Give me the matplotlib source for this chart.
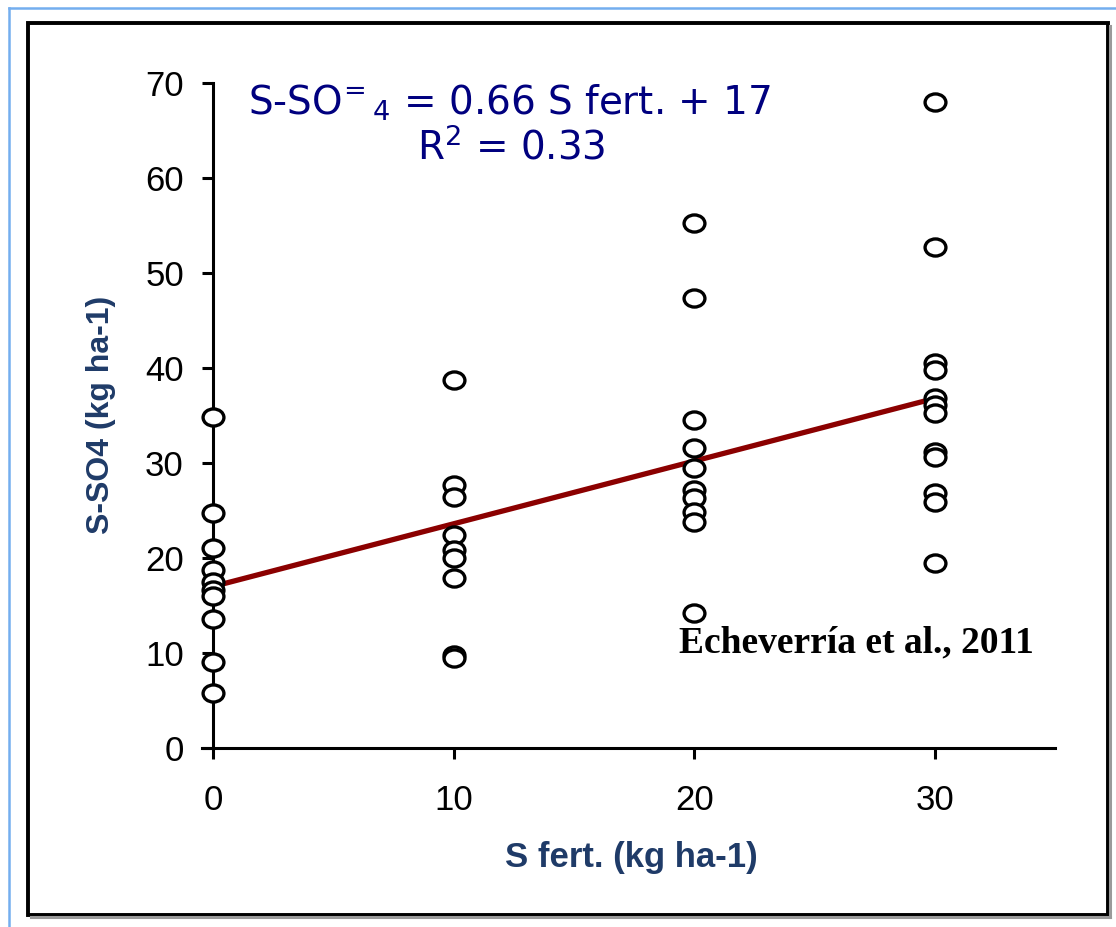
import numpy as np
import matplotlib
matplotlib.use("Agg")
import matplotlib.pyplot as plt
from matplotlib.path import Path
from matplotlib.transforms import Affine2D
from matplotlib.lines import Line2D
from matplotlib.patches import Rectangle

# S fertilizer rate (kg ha-1) and measured S-SO4 (kg ha-1)
sso4_0 = [34.8, 24.7, 21.1, 18.7, 17.5, 16.6, 16.0, 13.6, 9.1, 5.8]
sso4_10 = [38.7, 27.7, 26.4, 22.4, 20.8, 20.0, 17.9, 9.8, 9.5]
sso4_20 = [55.3, 47.4, 34.5, 31.6, 29.5, 27.2, 26.3, 24.8, 23.8, 14.2]
sso4_30 = [68.0, 52.7, 40.5, 39.8, 36.8, 36.1, 35.3, 31.2, 30.6, 26.8, 25.9, 19.5]
s_rates = [0, 10, 20, 30]

# Fitted regression
slope = 0.66
intercept = 17
r2 = 0.33

x_ticks = [0, 10, 20, 30]
y_ticks = [0, 10, 20, 30, 40, 50, 60, 70]

groups = list(zip(s_rates, [sso4_0, sso4_10, sso4_20, sso4_30]))

W, H = 1116, 927
fig = plt.figure(figsize=(W / 100, H / 100), dpi=100)
ft = fig.transFigure

# Outer light-blue edges
fig.add_artist(Line2D([9 / W, 1.0], [1 - 8 / H, 1 - 8 / H], color="#74AEEF",
                      lw=1.8, transform=ft))
fig.add_artist(Line2D([9 / W, 9 / W], [0, 1 - 8 / H], color="#74AEEF",
                      lw=1.8, transform=ft))
# Soft shadow on the right and bottom of the frame
fig.add_artist(Line2D([1110 / W, 1110 / W], [1 - 917 / H, 1 - 26 / H],
                      color="#9a9a9a", lw=2.2, transform=ft))
fig.add_artist(Line2D([31 / W, 1110 / W], [1 - 917 / H, 1 - 917 / H],
                      color="#9a9a9a", lw=2.2, transform=ft))
# Black frame
fig.add_artist(Rectangle((28 / W, 1 - 915 / H), 1080 / W, 892 / H, fill=False,
                         ec="black", lw=2.8, transform=ft))

ax = fig.add_axes([213 / W, 1 - 748 / H, (1055 - 213) / W, (748 - 83) / H])
ax.set_xlim(0, 35)
ax.set_ylim(0, 70)

# Slightly flattened open circle marker
ell = Path.unit_circle().transformed(Affine2D().scale(1.0, 0.82))

for xv, ys in groups:
    ax.plot([xv] * len(ys), ys, linestyle="none", marker=ell, markersize=15,
            markerfacecolor="white", markeredgecolor="black",
            markeredgewidth=2.4, clip_on=False, zorder=4)

xf = np.array([0, 30])
ax.plot(xf, slope * xf + intercept, color="#8B0000", lw=3.8, zorder=3,
        solid_capstyle="butt")

for side in ("top", "right"):
    ax.spines[side].set_visible(False)
for side in ("left", "bottom"):
    ax.spines[side].set_linewidth(2.2)
ax.spines["bottom"].set_bounds(-0.45, 35)

ax.set_xticks(x_ticks)
ax.set_yticks(y_ticks)
ax.tick_params(axis="both", direction="out", length=8, width=2.2,
               labelsize=25, colors="black")
ax.tick_params(axis="x", pad=18)
ax.tick_params(axis="y", pad=13)
for lab in ax.get_xticklabels() + ax.get_yticklabels():
    lab.set_family("Liberation Sans")

label_color = "#1F3B68"
fig.text(101 / W, 1 - 415 / H, "S-SO4 (kg ha-1)", rotation=90, ha="center",
         va="center", fontsize=23, fontweight="bold", color=label_color,
         family="Liberation Sans")
fig.text(631 / W, 1 - 857 / H, "S fert. (kg ha-1)", ha="center", va="center",
         fontsize=25, fontweight="bold", color=label_color,
         family="Liberation Sans")

eq_color = "#00007F"
fig.text(510 / W, 1 - 103 / H,
         r"S-SO$^{\!=}{}_{4}$ = %.2f S fert. + %d" % (slope, intercept),
         ha="center", va="center", fontsize=28, color=eq_color,
         family="DejaVu Sans")
fig.text(511 / W, 1 - 148 / H, r"R$^{2}$ = %.2f" % r2, ha="center",
         va="center", fontsize=28, color=eq_color, family="DejaVu Sans")

fig.text(856 / W, 1 - 643 / H, "Echeverría et al., 2011", ha="center",
         va="center", fontsize=27, fontweight="bold", color="black",
         family="Liberation Serif")

fig.savefig("out.png", dpi=100)
